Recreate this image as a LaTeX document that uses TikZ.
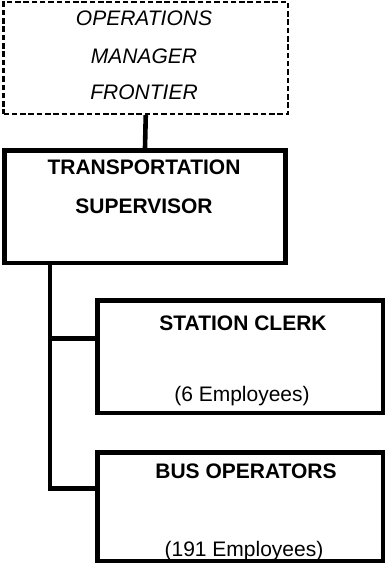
\documentclass[tikz,border=0pt]{standalone}
\usepackage{fontspec}
\setmainfont{Liberation Sans}
\begin{document}
\begin{tikzpicture}[
  x=1pt, y=-1pt,
  unit/.style={draw, line width=4.8pt, inner sep=0pt},
  mgrunit/.style={draw, line width=2.4pt, dash pattern=on 5.5pt off 2.8pt, inner sep=0pt},
  link/.style={line width=4.6pt},
  title/.style={anchor=base, font=\fontsize{21}{25}\selectfont\bfseries},
  mgrtitle/.style={anchor=base, font=\fontsize{21}{25}\selectfont\itshape},
  count/.style={anchor=base, font=\fontsize{21}{25}\selectfont},
]
  \useasboundingbox (0,0) rectangle (385,564);

  % Boxes
  \node[mgrunit, minimum width=284.5pt, minimum height=112pt] (mgr) at (145.75, 58) {};
  \node[unit, minimum width=281pt, minimum height=112.5pt] (sup) at (145, 206.75) {};
  \node[unit, minimum width=285.5pt, minimum height=112.5pt] (clerk) at (240.25, 356.75) {};
  \node[unit, minimum width=285.5pt, minimum height=108.5pt] (bus) at (240.25, 506.75) {};

  % Box texts
  \node[mgrtitle] (mgr1) at (144, 26) {OPERATIONS};
  \node[mgrtitle] (mgr2) at (144, 64) {MANAGER};
  \node[mgrtitle] (mgr3) at (144, 100) {FRONTIER};
  \node[title] (sup1) at (144, 175) {TRANSPORTATION};
  \node[title] (sup2) at (144, 213) {SUPERVISOR};
  \node[title] (clerk1) at (243, 330) {STATION CLERK};
  \node[count] (clerk2) at (242, 401) {(6 Employees)};
  \node[title] (bus1) at (246, 478) {BUS OPERATORS};
  \node[count] (bus2) at (244, 556) {(191 Employees)};

  % Lines
  \coordinate (trunk) at (50, 263);
  \draw[link] (mgr.south) -- (sup.north);
  \draw[link] (trunk) |- ([yshift=18pt]clerk.west);
  \draw[link] (trunk) |- ([yshift=18pt]bus.west);
\end{tikzpicture}
\end{document}
